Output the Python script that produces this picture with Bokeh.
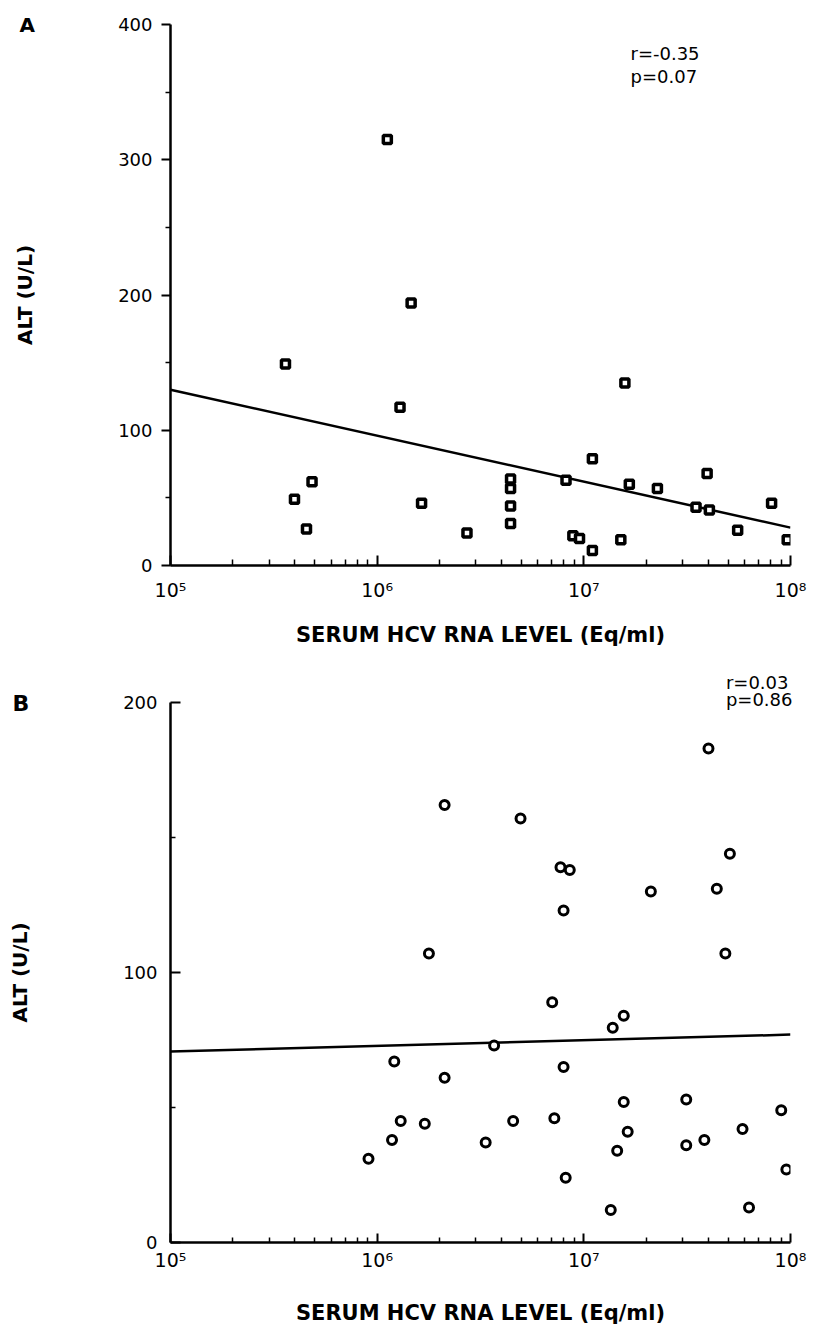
from bokeh.plotting import figure
from bokeh.models import Range1d, FixedTicker, Label, Title, CustomJSTickFormatter
from bokeh.layouts import column
from bokeh.embed import file_html
from bokeh.resources import INLINE

# ---------------- data ----------------
# Panel A: serum HCV RNA (Eq/ml) vs ALT (U/L)
a_rna = [1.12e6, 1.46e6, 3.6e5, 1.29e6, 1.58e7, 1.10e7, 3.95e7, 8.2e6, 4.84e5, 3.98e5,
         4.55e5, 1.64e6, 2.72e6, 4.42e6, 4.42e6, 4.42e6, 4.42e6, 1.66e7, 2.27e7, 3.49e7,
         4.05e7, 8.1e7, 5.55e7, 9.64e7, 1.51e7, 8.85e6, 9.53e6, 1.10e7]
a_alt = [315, 194, 149, 117, 135, 79, 68, 63, 62, 49,
         27, 46, 24, 64, 57, 44, 31, 60, 57, 43,
         41, 46, 26, 19, 19, 22, 20, 11]
a_fit_x = [1e5, 1e8]
a_fit_y = [130, 28]
a_stats = ["r=-0.35", "p=0.07"]

# Panel B
b_rna = [4.01e7, 2.12e6, 4.94e6, 5.09e7, 7.71e6, 8.55e6, 2.11e7, 4.4e7, 7.98e6, 1.78e6,
         4.84e7, 7.03e6, 1.56e7, 1.38e7, 3.68e6, 1.21e6, 7.98e6, 2.12e6, 1.56e7, 3.13e7,
         9.02e7, 1.30e6, 1.70e6, 4.55e6, 7.2e6, 1.63e7, 5.86e7, 1.18e6, 3.35e6, 3.83e7,
         3.13e7, 1.45e7, 9.08e5, 8.17e6, 9.55e7, 1.35e7, 6.3e7]
b_alt = [183, 162, 157, 144, 139, 138, 130, 131, 123, 107,
         107, 89, 84, 79.5, 73, 67, 65, 61, 52, 53,
         49, 45, 44, 45, 46, 41, 42, 38, 37, 38,
         36, 34, 31, 24, 27, 12, 13]
b_fit_x = [1e5, 1e8]
b_fit_y = [70.7, 77]
b_stats = ["r=0.03", "p=0.86"]

x_ticks = [1e5, 1e6, 1e7, 1e8]
x_tick_labels = ["10\u2075", "10\u2076", "10\u2077", "10\u2078"]
x_minor = [m * 10 ** k for k in range(5, 8) for m in range(2, 10)]
x_title = "SERUM HCV RNA LEVEL (Eq/ml)"
y_title = "ALT (U/L)"

FONT = "DejaVu Sans"


def base_fig(height, top, bottom, ymax):
    p = figure(width=811, height=height, x_axis_type="log",
               x_range=Range1d(1e5, 1e8), y_range=Range1d(0, ymax),
               output_backend="svg", toolbar_location=None,
               min_border_left=170, min_border_right=21,
               min_border_top=top, min_border_bottom=bottom)
    p.grid.visible = False
    p.outline_line_color = None
    p.background_fill_color = "white"
    p.border_fill_color = "white"
    for ax in (p.xaxis[0], p.yaxis[0]):
        ax.axis_line_width = 2.5
        ax.axis_line_color = "black"
        ax.major_tick_line_width = 2
        ax.minor_tick_line_width = 1.5
        ax.major_tick_line_color = "black"
        ax.minor_tick_line_color = "black"
        ax.major_label_text_font = FONT
        ax.major_label_text_font_size = "18px"
        ax.major_label_text_color = "black"
        ax.axis_label_text_font = FONT
        ax.axis_label_text_font_style = "bold"
        ax.axis_label_text_font_size = "20px"
        ax.axis_label_text_color = "black"
    xa = p.xaxis[0]
    xa.ticker = FixedTicker(ticks=x_ticks, minor_ticks=x_minor)
    xa.formatter = CustomJSTickFormatter(
        args=dict(tvals=x_ticks, tlabels=x_tick_labels),
        code="const i = tvals.findIndex(t => Math.abs(t - tick) / t < 1e-6);"
             " return i >= 0 ? tlabels[i] : '';")
    xa.major_label_text_font_size = "19px"
    xa.axis_label_text_font_size = "21px"
    xa.major_tick_in = 10
    xa.major_tick_out = 0
    xa.minor_tick_in = 6
    xa.minor_tick_out = 0
    xa.axis_label = x_title
    ya = p.yaxis[0]
    ya.axis_label = y_title
    return p


def top_text(p, text, align, offset, standoff, size, bold=False, line_height=1.2):
    # titles live in the panel above the frame, so they are not clipped
    p.add_layout(Title(text=text, align=align, offset=offset, standoff=standoff,
                       vertical_align="bottom", text_font=FONT, text_font_size=size,
                       text_font_style="bold" if bold else "normal",
                       text_color="black", text_line_height=line_height), "above")


# ---------------- panel A ----------------
pa = base_fig(660, 24, 95, 400)
ya = pa.yaxis[0]
ya.ticker = FixedTicker(ticks=[0, 100, 200, 300, 400], minor_ticks=[50, 150, 250, 350])
ya.major_tick_out = 9
ya.major_tick_in = 0
ya.minor_tick_out = 5
ya.minor_tick_in = 0
ya.major_label_standoff = 9
ya.axis_label_standoff = 78
xa = pa.xaxis[0]
xa.major_label_standoff = 13
xa.axis_label_standoff = 19

pa.line(a_fit_x, a_fit_y, line_color="black", line_width=2.5)
pa.scatter(a_rna, a_alt, marker="square", size=8, fill_color="white",
           line_color="black", line_width=3.5)
pa.add_layout(Label(x=1e8, y=400, x_offset=-160, y_offset=-29, text=a_stats[0],
                    text_align="left", text_baseline="alphabetic",
                    text_font=FONT, text_font_size="18px", text_color="black"))
pa.add_layout(Label(x=1e8, y=400, x_offset=-160, y_offset=-52, text=a_stats[1],
                    text_align="left", text_baseline="alphabetic",
                    text_font=FONT, text_font_size="18px", text_color="black"))
top_text(pa, "A", "left", -151, -25, "20px", bold=True)

# ---------------- panel B ----------------
pb = base_fig(668, 42, 86, 200)
yb = pb.yaxis[0]
yb.ticker = FixedTicker(ticks=[0, 100, 200], minor_ticks=[50, 150])
yb.major_tick_out = 0
yb.major_tick_in = 10
yb.minor_tick_out = 0
yb.minor_tick_in = 5
yb.major_label_standoff = 13
yb.axis_label_standoff = 88
xb = pb.xaxis[0]
xb.major_tick_in = 9
xb.minor_tick_in = 5
xb.major_label_standoff = 6
xb.axis_label_standoff = 27

pb.line(b_fit_x, b_fit_y, line_color="black", line_width=2.5)
pb.scatter(b_rna, b_alt, marker="circle", size=9, fill_color="white",
           line_color="black", line_width=3)
top_text(pb, "B", "left", -158, -27, "22px", bold=True)
top_text(pb, "\n".join(b_stats), "right", -2, -16, "18px", line_height=0.85)

layout = column(pa, pb)
open("out.html", "w").write(file_html(layout, INLINE))
